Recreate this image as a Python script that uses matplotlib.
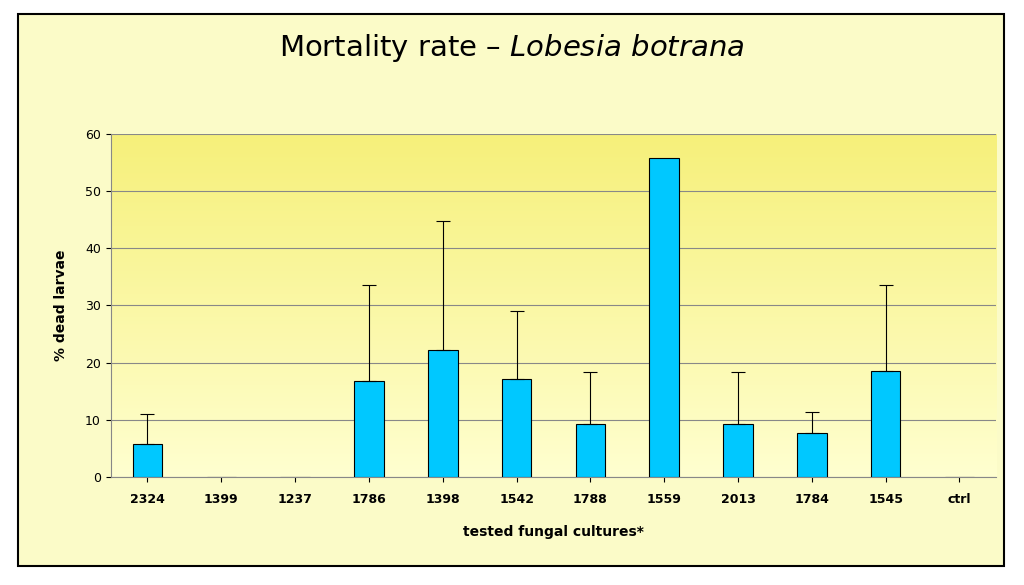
import matplotlib
matplotlib.use("Agg")
import matplotlib.pyplot as plt
import numpy as np
from matplotlib.patches import Rectangle
from matplotlib.colors import LinearSegmentedColormap

cultures = ["2324","1399","1237","1786","1398","1542","1788","1559","2013","1784","1545","ctrl"]
values = [5.7,0,0,16.8,22.2,17.1,9.3,55.8,9.3,7.6,18.6,0]
upper_err = [5.3,0,0,16.7,22.6,11.9,9.1,0,9.1,3.7,14.9,0]

fig = plt.figure(figsize=(10.24,5.85), dpi=100)
fig.patches.append(Rectangle((0.018,0.032),0.962,0.944,transform=fig.transFigure,
                             facecolor="#FBFBC8",edgecolor="black",lw=1.5,zorder=-1))
ax = fig.add_axes([0.108,0.185,0.865,0.586])
grad = np.linspace(0,1,256).reshape(-1,1)
cm = LinearSegmentedColormap.from_list("g",["#FFFFD0","#F6F07A"])
ax.imshow(grad, aspect="auto", cmap=cm, extent=[-0.5,11.5,0,60], origin="lower", zorder=0)
x = np.arange(len(cultures))
ax.bar(x, values, width=0.4, color="#00C8FF", edgecolor="black", lw=0.8, zorder=3)
m = np.array(upper_err) > 0
ax.errorbar(x[m], np.array(values)[m], yerr=[np.zeros(m.sum()), np.array(upper_err)[m]],
            fmt="none", ecolor="black", elinewidth=0.8, capsize=5, capthick=0.8, zorder=4)
ax.set_xlim(-0.5,11.5); ax.set_ylim(0,60)
ax.set_yticks(range(0,61,10))
ax.yaxis.grid(True,color="#888888",lw=0.8,zorder=1); ax.set_axisbelow(True)
ax.set_xticks(x); ax.set_xticklabels(cultures, fontweight="bold", fontsize=9)
ax.tick_params(axis="y", labelsize=9)
ax.tick_params(axis="x", pad=8)
for s in ["top","right"]: ax.spines[s].set_visible(False)
ax.spines["left"].set_color("#888888"); ax.spines["bottom"].set_color("#888888")
ax.set_xlabel("tested fungal cultures*", fontweight="bold", fontsize=10, labelpad=14)
ax.set_ylabel("% dead larvae", fontweight="bold", fontsize=10, labelpad=12)
fig.text(0.5,0.918,"Mortality rate – $\\it{Lobesia\\ botrana}$", ha="center", va="center", fontsize=21)
fig.savefig("out.png", dpi=100)
